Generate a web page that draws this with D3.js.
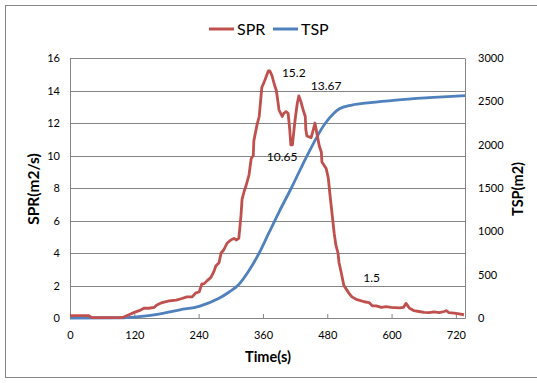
<!DOCTYPE html>
<html>
<head>
<meta charset="utf-8">
<script src="https://cdn.jsdelivr.net/npm/d3@7"></script>
<style>
  body { margin: 0; background: #fff; }
  text { font-family: Lato, "Liberation Sans", sans-serif; fill: #000; }
</style>
</head>
<body>
<svg id="chart" width="537" height="383"></svg>
<script>
// SPR (m2/s)
var sprTime = [0, 35, 41, 97, 110, 119, 129, 138, 147, 157, 162, 172, 185, 198, 209, 218, 228, 235, 241, 246, 250, 256, 263, 269, 272, 278, 282, 287, 293, 300, 306, 310, 315, 319, 321, 325, 329, 334, 338, 342, 343, 349, 353, 356, 358, 362, 366, 370, 373, 377, 381, 385, 388, 390, 396, 399, 403, 407, 410, 412, 415, 418, 420, 424, 427, 431, 435, 439, 440, 442, 450, 454, 457, 461, 465, 469, 470, 478, 482, 485, 489, 493, 496, 500, 502, 506, 511, 517, 521, 526, 534, 539, 549, 558, 564, 571, 581, 590, 599, 614, 622, 627, 633, 642, 651, 661, 670, 679, 689, 698, 702, 707, 717, 726, 735];
var sprValue = [0.15, 0.15, 0.02, 0.02, 0.2, 0.33, 0.45, 0.6, 0.6, 0.65, 0.8, 0.95, 1.05, 1.1, 1.2, 1.3, 1.3, 1.55, 1.6, 2.1, 2.1, 2.3, 2.5, 2.9, 3.2, 3.4, 4.0, 4.2, 4.6, 4.8, 4.9, 4.8, 4.9, 6.3, 7.3, 7.8, 8.2, 8.8, 9.8, 10.0, 10.9, 11.9, 12.4, 13.5, 14.2, 14.5, 14.85, 15.2, 15.2, 14.9, 14.4, 14.0, 13.3, 12.8, 12.4, 12.6, 12.7, 12.6, 11.6, 10.65, 10.65, 11.6, 12.2, 13.2, 13.67, 13.3, 12.8, 12.4, 11.6, 11.2, 11.1, 11.6, 12.0, 11.3, 10.6, 10.2, 9.6, 9.2, 8.6, 7.6, 6.4, 5.2, 4.5, 4.0, 3.4, 2.8, 2.0, 1.7, 1.5, 1.3, 1.15, 1.1, 1.0, 0.95, 0.75, 0.75, 0.65, 0.7, 0.65, 0.62, 0.65, 0.9, 0.62, 0.45, 0.4, 0.35, 0.33, 0.38, 0.33, 0.4, 0.45, 0.33, 0.3, 0.25, 0.2];

// TSP (m2)
var tspTime = [0, 100, 129, 166, 205, 241, 278, 297, 315, 334, 353, 371, 390, 413, 442, 476, 491, 502, 526, 560, 608, 670, 737];
var tspValue = [0, 3, 15, 46, 95, 135, 227, 300, 387, 548, 750, 981, 1223, 1500, 1869, 2244, 2353, 2411, 2457, 2485, 2515, 2542, 2565];

// point labels
var labelTime = [373, 427, 412, 521];
var labelText = ["15.2", "13.67", "10.65", "1.5"];

var xTicks = [0, 120, 240, 360, 480, 600, 720];
var leftTicks = [0, 2, 4, 6, 8, 10, 12, 14, 16];
var rightTicks = [0, 500, 1000, 1500, 2000, 2500, 3000];

var red = "#C0504D", blue = "#4F81BD", gray = "#868686";

var svg = d3.select("#chart");
var plotLeft = 70, plotRight = 465, plotTop = 58, plotBottom = 318;

var x = d3.scaleLinear().domain([0, 737]).range([plotLeft, plotRight]);
var yL = d3.scaleLinear().domain([0, 16]).range([plotBottom, plotTop]);
var yR = d3.scaleLinear().domain([0, 3000]).range([plotBottom, plotTop]);

// outer frame
svg.append("rect").attr("x", 5.5).attr("y", 5.5).attr("width", 540).attr("height", 372)
  .attr("fill", "none").attr("stroke", gray);

// gridlines
svg.append("g").selectAll("line").data(leftTicks.slice(1)).join("line")
  .attr("x1", plotLeft).attr("x2", plotRight)
  .attr("y1", function (d) { return Math.round(yL(d)) + 0.5; })
  .attr("y2", function (d) { return Math.round(yL(d)) + 0.5; })
  .attr("stroke", gray);

// axes
var gL = svg.append("g").attr("transform", "translate(" + plotLeft + ",0)")
  .call(d3.axisLeft(yL).tickValues(leftTicks).tickSize(0).tickPadding(10));
var gR = svg.append("g").attr("transform", "translate(" + plotRight + ",0)")
  .call(d3.axisRight(yR).tickValues(rightTicks).tickFormat(d3.format("d")).tickSize(0).tickPadding(13));
var gX = svg.append("g").attr("transform", "translate(0," + plotBottom + ")")
  .call(d3.axisBottom(x).tickValues(xTicks).tickSizeInner(-4).tickSizeOuter(0).tickPadding(13));
[gL, gR, gX].forEach(function (g) {
  g.selectAll(".domain, line").attr("stroke", gray);
  g.selectAll("text").attr("font-size", 11).style("font-family", "Lato, sans-serif");
});

// lines
svg.append("path").datum(tspTime)
  .attr("fill", "none").attr("stroke", blue).attr("stroke-width", 2.8)
  .attr("d", d3.line().curve(d3.curveMonotoneX)
    .x(function (d) { return x(d); })
    .y(function (d, i) { return yR(tspValue[i]); }));

svg.append("path").datum(sprTime)
  .attr("fill", "none").attr("stroke", red).attr("stroke-width", 2.8)
  .attr("stroke-linejoin", "round")
  .attr("d", d3.line()
    .x(function (d) { return x(d); })
    .y(function (d, i) { return yL(sprValue[i]); }));

// data labels
var labelDx = [12, 12, -24, 14], labelDy = [6, -6, 16, -12];
svg.append("g").selectAll("text").data(labelTime).join("text")
  .attr("x", function (d, i) { return x(d) + labelDx[i]; })
  .attr("y", function (d, i) { return yL(+labelText[i]) + labelDy[i]; })
  .attr("font-size", 12)
  .text(function (d, i) { return labelText[i]; });

// axis titles
svg.append("text").attr("transform", "translate(39,189) rotate(-90)")
  .attr("text-anchor", "middle").attr("font-size", 15.5).attr("font-weight", "bold")
  .text("SPR(m2/s)");
svg.append("text").attr("transform", "translate(523,189) rotate(-90)")
  .attr("text-anchor", "middle").attr("font-size", 14.5).attr("font-weight", "bold")
  .text("TSP(m2)");
svg.append("text").attr("x", 268).attr("y", 362)
  .attr("text-anchor", "middle").attr("font-size", 14.5).attr("font-weight", "bold")
  .text("Time(s)");

// legend
var legNames = ["SPR", "TSP"], legColors = [red, blue], legX = [209, 273];
var leg = svg.append("g").selectAll("g").data(legNames).join("g")
  .attr("transform", function (d, i) { return "translate(" + legX[i] + ",29)"; });
leg.append("line").attr("x1", 0).attr("x2", 25)
  .attr("stroke", function (d, i) { return legColors[i]; }).attr("stroke-width", 3);
leg.append("text").attr("x", 28).attr("y", 6).attr("font-size", 16)
  .text(function (d) { return d; });
</script>
</body>
</html>
